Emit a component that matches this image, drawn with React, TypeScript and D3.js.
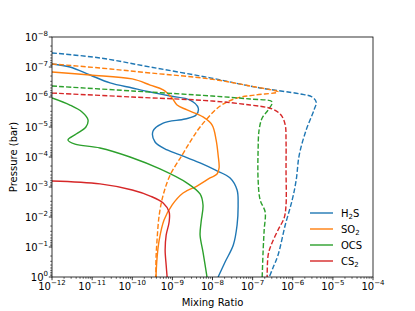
import * as d3 from "d3";

// [mixing ratio, pressure (bar)]
const h2sSolid: [number, number][] = [
  [1e-12, 7.9e-8], [2.8e-12, 1e-7], [8.9e-12, 1.85e-7], [2.8e-11, 3.4e-7], [1e-10, 5.0e-7],
  [2.8e-10, 6.8e-7], [8.8e-10, 9.3e-7], [2.76e-9, 1.26e-6], [4.4e-9, 2.3e-6], [3.9e-9, 4.0e-6],
  [2.07e-9, 5.4e-6], [5.9e-10, 7.4e-6], [3.3e-10, 1.36e-5], [3.7e-10, 3.16e-5], [7.4e-10, 5.8e-5],
  [1.85e-9, 9.3e-5], [4.9e-9, 1.58e-4], [1.16e-8, 2.7e-4], [2.75e-8, 5.0e-4], [4.1e-8, 1.26e-3],
  [4.35e-8, 4.0e-3], [4.1e-8, 1.85e-2], [3.3e-8, 8.6e-2], [2.06e-8, 0.316], [1.38e-8, 1],
];
const h2sDashed: [number, number][] = [
  [1e-12, 3.4e-8], [1.57e-11, 5.0e-8], [2.8e-10, 1e-7], [8.7e-9, 2.3e-7], [1.54e-7, 5.0e-7],
  [1.53e-6, 7.9e-7], [3.05e-6, 1e-6], [3.84e-6, 1.47e-6], [3.4e-6, 2.7e-6], [2.16e-6, 1.26e-5],
  [1.45e-6, 8.6e-5], [1.22e-6, 5.8e-4], [9.7e-7, 2.7e-3], [6.5e-7, 1.85e-2], [4.3e-7, 0.185],
  [3.2e-7, 0.5], [2.6e-7, 1],
];
const so2Solid: [number, number][] = [
  [1e-12, 1.47e-7], [8.9e-12, 1.85e-7], [1e-10, 2.5e-7], [2.8e-10, 4.0e-7], [5.9e-10, 5.8e-7],
  [9.8e-10, 1.08e-6], [1.31e-9, 1.85e-6], [2.33e-9, 2.7e-6], [5.8e-9, 4.6e-6], [9.8e-9, 8.6e-6],
  [1.23e-8, 2.7e-5], [1.38e-8, 8.6e-5], [1.46e-8, 2.3e-4], [1.3e-8, 3.7e-4], [8.7e-9, 5.0e-4],
  [4.1e-9, 9.3e-4], [1.85e-9, 1.58e-3], [9.8e-10, 4.0e-3], [6.2e-10, 1.26e-2], [4.7e-10, 5.8e-2],
  [4.15e-10, 0.23], [3.9e-10, 1],
];
const so2Dashed: [number, number][] = [
  [1e-12, 7.9e-8], [1.57e-11, 1.08e-7], [2.8e-10, 1.58e-7], [8.7e-9, 2.5e-7], [8.7e-8, 4.3e-7],
  [4.3e-7, 6.8e-7], [1.15e-7, 8.6e-7], [4.1e-8, 1.08e-6], [1.55e-8, 2.0e-6], [4.9e-9, 1e-5],
  [2.76e-9, 3.16e-5], [1.75e-9, 8.6e-5], [8.8e-10, 4.0e-4], [5.9e-10, 1.85e-3], [4.7e-10, 8.6e-3],
  [4.15e-10, 5.8e-2], [3.9e-10, 0.27], [3.9e-10, 1],
];
const ocsSolid: [number, number][] = [
  [1e-12, 1.08e-6], [2.8e-12, 1.85e-6], [5.6e-12, 3.16e-6], [7.9e-12, 5.8e-6], [7.0e-12, 1e-5],
  [4.0e-12, 1.71e-5], [2.5e-12, 2.7e-5], [3.75e-12, 3.7e-5], [1.57e-11, 5.0e-5], [8.8e-11, 1e-4],
  [4.9e-10, 2.5e-4], [2.33e-9, 7.4e-4], [4.9e-9, 1.71e-3], [5.8e-9, 4.0e-3], [5.2e-9, 1.47e-2],
  [4.9e-9, 4.0e-2], [5.8e-9, 0.147], [7.3e-9, 1],
];
const ocsDashed: [number, number][] = [
  [1e-12, 4.3e-7], [1e-10, 6.3e-7], [9.8e-9, 9.3e-7], [8.7e-8, 1.17e-6], [3.06e-7, 1.47e-6],
  [2.44e-7, 2.7e-6], [1.73e-7, 5.0e-6], [1.45e-7, 1.26e-5], [1.37e-7, 5.8e-5], [1.37e-7, 5.8e-4],
  [1.54e-7, 2.7e-3], [2.05e-7, 6.8e-3], [1.94e-7, 2.7e-2], [1.83e-7, 0.126], [1.73e-7, 1],
];
const cs2Solid: [number, number][] = [
  [1e-12, 6.3e-4], [1.57e-11, 7.9e-4], [1e-10, 1.26e-3], [2.8e-10, 2.0e-3], [5.9e-10, 3.4e-3],
  [8.3e-10, 6.8e-3], [8.3e-10, 1.47e-2], [7.0e-10, 4.0e-2], [6.6e-10, 0.126], [7.0e-10, 0.4],
  [7.4e-10, 1],
];
const cs2Dashed: [number, number][] = [
  [1e-12, 7.4e-7], [1e-10, 1e-6], [9.8e-9, 1.36e-6], [8.7e-8, 1.85e-6], [3.06e-7, 2.5e-6],
  [5.1e-7, 4.0e-6], [6.5e-7, 8.6e-6], [6.8e-7, 2.7e-5], [6.8e-7, 2.7e-4], [6.8e-7, 4.0e-3],
  [6.1e-7, 1.08e-2], [4.3e-7, 2.7e-2], [2.9e-7, 8.6e-2], [2.44e-7, 0.185], [2.3e-7, 1],
];

const species = [
  { name: "H", sub: "2", rest: "S", color: "#1f77b4", solid: h2sSolid, dashed: h2sDashed },
  { name: "SO", sub: "2", rest: "", color: "#ff7f0e", solid: so2Solid, dashed: so2Dashed },
  { name: "OCS", sub: "", rest: "", color: "#2ca02c", solid: ocsSolid, dashed: ocsDashed },
  { name: "CS", sub: "2", rest: "", color: "#d62728", solid: cs2Solid, dashed: cs2Dashed },
];

const xExps = [-12, -11, -10, -9, -8, -7, -6, -5, -4];
const yExps = [-8, -7, -6, -5, -4, -3, -2, -1, 0];

const width = 415;
const height = 311;
const margin = { top: 37, right: 42, bottom: 34, left: 52 };
const font = "DejaVu Sans, sans-serif";
const fs = 10;
const fsSup = 7;

const minor = (exps: number[]) => {
  const out: number[] = [];
  for (let i = 0; i < exps.length - 1; i++)
    for (let k = 2; k <= 9; k++) out.push(k * Math.pow(10, exps[i]));
  return out;
};

const App = () => {
  const x = d3
    .scaleLog()
    .domain([1e-12, 1e-4])
    .range([margin.left, width - margin.right]);
  const y = d3
    .scaleLog()
    .domain([1e-8, 1])
    .range([margin.top, height - margin.bottom]);

  const line = d3
    .line<[number, number]>()
    .x((d) => x(d[0]))
    .y((d) => y(d[1]))
    .curve(d3.curveCatmullRom.alpha(0.5));

  const x0 = margin.left;
  const x1 = width - margin.right;
  const y0 = margin.top;
  const y1 = height - margin.bottom;

  return (
    <svg
      width={width}
      height={height}
      style={{ position: "absolute", left: 0, top: 0, background: "#fff" }}
      fontFamily={font}
    >
      <defs>
        <clipPath id="plot">
          <rect x={x0} y={y0} width={x1 - x0} height={y1 - y0} />
        </clipPath>
      </defs>

      <g clipPath="url(#plot)" fill="none" strokeWidth={1.4}>
        {species.map((s) => (
          <g key={s.name}>
            <path d={line(s.solid) ?? ""} stroke={s.color} />
            <path d={line(s.dashed) ?? ""} stroke={s.color} strokeDasharray="5,2.2" />
          </g>
        ))}
      </g>

      {/* frame */}
      <rect x={x0} y={y0} width={x1 - x0} height={y1 - y0} fill="none" stroke="#000" strokeWidth={0.8} />

      {/* x ticks */}
      {minor(xExps).map((v, i) => (
        <line key={`xm${i}`} x1={x(v)} x2={x(v)} y1={y1} y2={y1 + 1.8} stroke="#000" strokeWidth={0.6} />
      ))}
      {xExps.map((e) => (
        <g key={`x${e}`}>
          <line x1={x(Math.pow(10, e))} x2={x(Math.pow(10, e))} y1={y1} y2={y1 + 3.2} stroke="#000" strokeWidth={0.8} />
          <text x={x(Math.pow(10, e))} y={y1 + 12.5} textAnchor="middle" fontSize={fs} fill="#000">
            10
            <tspan dy={-4.5} fontSize={fsSup}>
              {e === 0 ? "0" : `\u2212${-e}`}
            </tspan>
          </text>
        </g>
      ))}

      {/* y ticks */}
      {minor(yExps).map((v, i) => (
        <line key={`ym${i}`} x1={x0} x2={x0 - 1.8} y1={y(v)} y2={y(v)} stroke="#000" strokeWidth={0.6} />
      ))}
      {yExps.map((e) => (
        <g key={`y${e}`}>
          <line x1={x0} x2={x0 - 3.2} y1={y(Math.pow(10, e))} y2={y(Math.pow(10, e))} stroke="#000" strokeWidth={0.8} />
          <text x={x0 - 4} y={y(Math.pow(10, e)) + 3.7} textAnchor="end" fontSize={fs} fill="#000">
            10
            <tspan dy={-4.5} fontSize={fsSup}>
              {e === 0 ? "0" : `\u2212${-e}`}
            </tspan>
          </text>
        </g>
      ))}

      {/* axis labels */}
      <text x={(x0 + x1) / 2} y={305.5} textAnchor="middle" fontSize={fs} fill="#000">
        Mixing Ratio
      </text>
      <text
        transform={`translate(17,${(y0 + y1) / 2}) rotate(-90)`}
        textAnchor="middle"
        fontSize={fs}
        fill="#000"
      >
        Pressure (bar)
      </text>

      {/* legend */}
      {species.map((s, i) => {
        const ly = 213 + i * 16;
        return (
          <g key={`lg${s.name}`}>
            <line x1={310} x2={333} y1={ly} y2={ly} stroke={s.color} strokeWidth={1.4} />
            <text x={341} y={ly + 3.7} fontSize={fs} fill="#000">
              {s.name}
              {s.sub && (
                <tspan dy={2.5} fontSize={fsSup}>
                  {s.sub}
                </tspan>
              )}
              {s.rest && <tspan dy={-2.5}>{s.rest}</tspan>}
            </text>
          </g>
        );
      })}
    </svg>
  );
};

export default App;
